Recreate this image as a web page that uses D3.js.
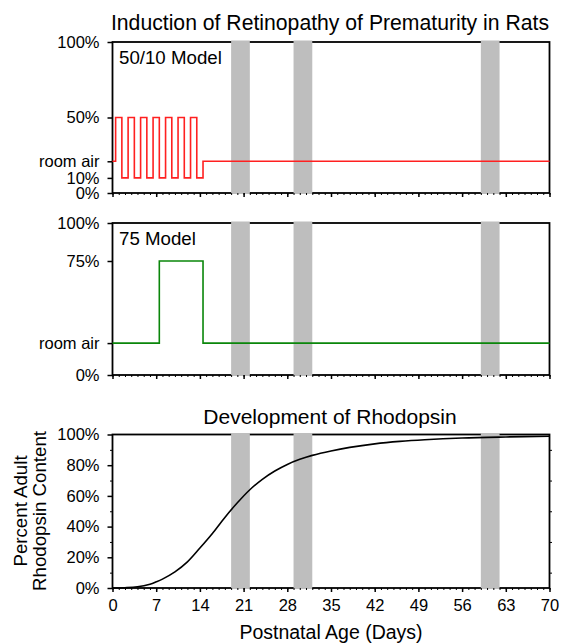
<!DOCTYPE html>
<html>
<head>
<meta charset="utf-8">
<script src="https://cdn.jsdelivr.net/npm/d3@7"></script>
<style>
  body { margin: 0; background: #fff; }
  svg { font-family: "Liberation Sans", Arial, sans-serif; }
  .tick text { font-size: 16.5px; fill: #000; }
</style>
</head>
<body>
<svg width="562" height="644"></svg>
<script>
// oxygen exposure, day of change -> % oxygen (step after)
var model5010Days = [0, 0.5, 1.5, 2.5, 3.5, 4.5, 5.5, 6.5, 7.5, 8.5, 9.5, 10.5, 11.5, 12.5, 13.5, 14.5, 70];
var model5010Level = [21, 50, 10, 50, 10, 50, 10, 50, 10, 50, 10, 50, 10, 50, 10, 21, 21];
var model75Days = [0, 7.5, 14.5, 70];
var model75Level = [21, 75, 21, 21];

// rhodopsin development
var rhoDays = [0, 2, 4, 6, 7, 8, 10, 12, 14, 16, 18, 20, 22, 24, 26, 28, 30, 32, 35, 38, 42, 46, 50, 56, 63, 70];
var rhoPct = [0, 0.2, 0.8, 2.5, 4, 5.8, 10.5, 17, 26, 35.5, 46, 55.5, 64, 70.8, 76.2, 80.5, 83.8, 86.4, 89.3, 91.6, 93.9, 95.5, 96.6, 97.7, 98.4, 98.9];

// shaded periods (days)
var bandStart = [19, 29, 59];
var bandEnd = [22, 32, 62];

var roomAir = 21;
var topTicks = [0, 10, roomAir, 50, 100];
var midTicks = [0, roomAir, 75, 100];
var botTicks = [0, 20, 40, 60, 80, 100];
var xMajor = [0, 7, 14, 21, 28, 35, 42, 49, 56, 63, 70];

var left = 112.5, right = 549.5;
var x = d3.scaleLinear().domain([0, 70]).range([left, right]);

var svg = d3.select("svg");

function pctFmt(d) { return d == roomAir ? "room air" : d + "%"; }

// draw one panel, returns its y scale
function drawPanel(top, bottom, ticks, showXLabels) {
  var y = d3.scaleLinear().domain([0, 100]).range([bottom, top]);
  var g = svg.append("g");

  // frame
  g.append("rect")
    .attr("x", left).attr("y", top)
    .attr("width", right - left).attr("height", bottom - top)
    .attr("fill", "none").attr("stroke", "#000").attr("stroke-width", 1.8);

  // grey bands over the frame
  g.selectAll(".band")
    .data(bandStart)
    .enter().append("rect")
    .attr("class", "band")
    .attr("x", function(d) { return x(d); })
    .attr("width", function(d, i) { return x(bandEnd[i]) - x(d); })
    .attr("y", top - 1.5)
    .attr("height", bottom - top + 2.5)
    .attr("fill", "#bebebe");

  // x minor ticks (every day)
  g.append("g")
    .attr("transform", "translate(0," + bottom + ")")
    .call(d3.axisBottom(x).tickValues(d3.range(0, 71)).tickSize(2).tickFormat(""))
    .call(function(a) { a.select(".domain").remove(); });

  // x major ticks
  var xa = g.append("g")
    .attr("transform", "translate(0," + bottom + ")")
    .call(d3.axisBottom(x).tickValues(xMajor).tickSize(4).tickPadding(7)
      .tickFormat(showXLabels ? d3.format("d") : ""));
  xa.select(".domain").remove();
  xa.selectAll("line").attr("stroke-width", 1.5);

  // y ticks
  var ya = g.append("g")
    .attr("transform", "translate(" + left + ",0)")
    .call(d3.axisLeft(y).tickValues(ticks).tickSize(5).tickPadding(8).tickFormat(pctFmt));
  ya.select(".domain").remove();
  ya.selectAll("line").attr("stroke-width", 1.5);

  return { g: g, y: y };
}

// panel 1: 50/10 model
var p1 = drawPanel(42, 193, topTicks, false);
p1.g.append("path")
  .datum(model5010Days)
  .attr("fill", "none").attr("stroke", "#ff2020").attr("stroke-width", 1.6)
  .attr("d", d3.line().curve(d3.curveStepAfter)
    .x(function(d) { return x(d); })
    .y(function(d, i) { return p1.y(model5010Level[i]); }));
p1.g.append("text").attr("x", 119).attr("y", 64)
  .attr("font-size", 18.7).text("50/10 Model");

// panel 2: 75 model
var p2 = drawPanel(223, 375, midTicks, false);
p2.g.append("path")
  .datum(model75Days)
  .attr("fill", "none").attr("stroke", "#0a860a").attr("stroke-width", 1.6)
  .attr("d", d3.line().curve(d3.curveStepAfter)
    .x(function(d) { return x(d); })
    .y(function(d, i) { return p2.y(model75Level[i]); }));
p2.g.append("text").attr("x", 119).attr("y", 245)
  .attr("font-size", 18.7).text("75 Model");

// panel 3: rhodopsin
var p3 = drawPanel(434.5, 588, botTicks, true);
// minor y ticks, left and right
p3.g.append("g")
  .attr("transform", "translate(" + left + ",0)")
  .call(d3.axisLeft(p3.y).tickValues([10, 30, 50, 70, 90]).tickSize(2.5).tickFormat(""))
  .call(function(a) { a.select(".domain").remove(); });
p3.g.append("g")
  .attr("transform", "translate(" + right + ",0)")
  .call(d3.axisRight(p3.y).tickValues([10, 30, 50, 70, 90]).tickSize(2.5).tickFormat(""))
  .call(function(a) { a.select(".domain").remove(); });

p3.g.append("path")
  .datum(rhoDays)
  .attr("fill", "none").attr("stroke", "#000").attr("stroke-width", 1.6)
  .attr("d", d3.line().curve(d3.curveCatmullRom.alpha(0.5))
    .x(function(d) { return x(d); })
    .y(function(d, i) { return p3.y(rhoPct[i]); }));

// titles and labels
var mid = (left + right) / 2;
svg.append("text").attr("x", mid - 1).attr("y", 30).attr("text-anchor", "middle")
  .attr("font-size", 21.2).text("Induction of Retinopathy of Prematurity in Rats");
svg.append("text").attr("x", mid - 1).attr("y", 424).attr("text-anchor", "middle")
  .attr("font-size", 21).text("Development of Rhodopsin");
svg.append("text").attr("x", mid).attr("y", 639).attr("text-anchor", "middle")
  .attr("font-size", 19.5).text("Postnatal Age (Days)");

var yl = svg.append("text")
  .attr("transform", "translate(27,511) rotate(-90)")
  .attr("text-anchor", "middle").attr("font-size", 18.7);
yl.append("tspan").attr("x", 0).attr("dy", 0).text("Percent Adult");
yl.append("tspan").attr("x", 0).attr("dy", 19).text("Rhodopsin Content");
</script>
</body>
</html>
